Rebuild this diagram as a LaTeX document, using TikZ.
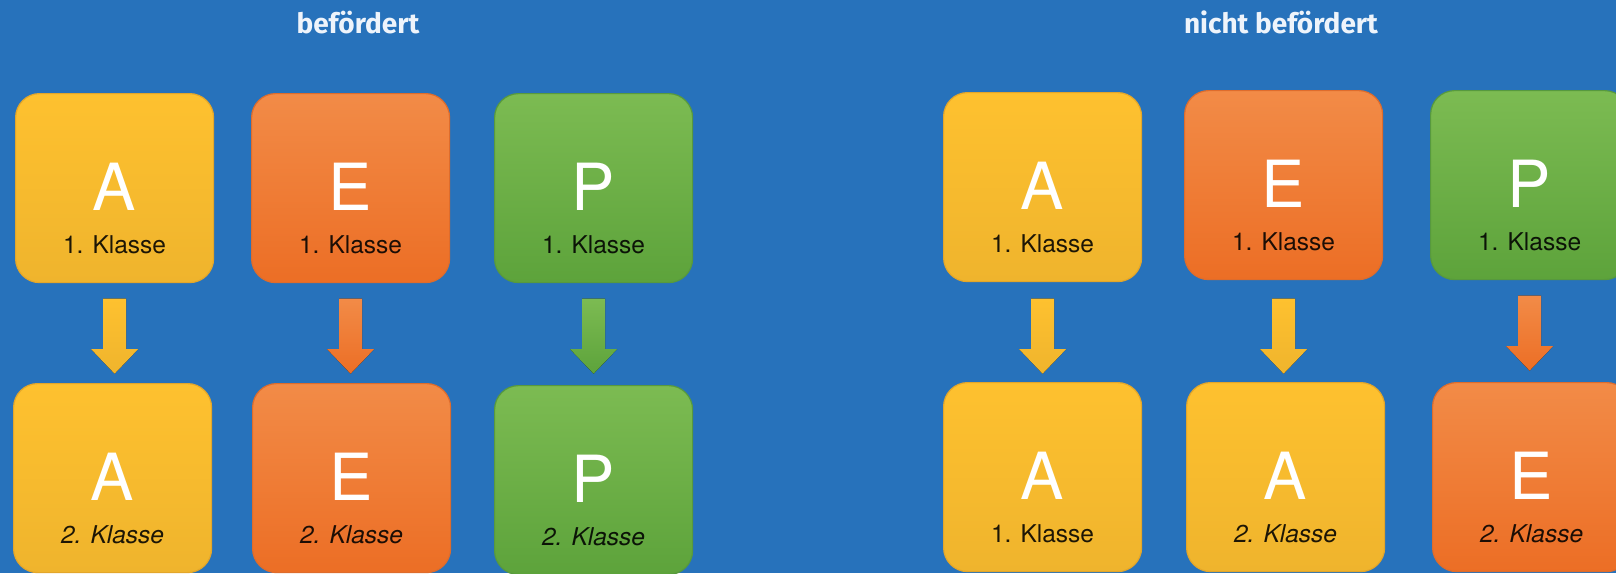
\documentclass[tikz,border=0pt]{standalone}
\usepackage{fontspec}
\setmainfont{TeX Gyre Heros}
\newfontfamily\titlefont{Fira Sans}
\usetikzlibrary{shadings,calc}
\definecolor{bg}{HTML}{2772BB}
\definecolor{yeltop}{HTML}{FEC12F}
\definecolor{yelmid}{HTML}{FFC90C}
\definecolor{yelbot}{HTML}{EFB42D}
\definecolor{yelborder}{HTML}{E3A62A}
\definecolor{orgtop}{HTML}{F28B47}
\definecolor{orgmid}{HTML}{F07A29}
\definecolor{orgbot}{HTML}{EC6E25}
\definecolor{orgborder}{HTML}{DE6C2C}
\definecolor{grntop}{HTML}{7CBB52}
\definecolor{grnmid}{HTML}{6AAE43}
\definecolor{grnbot}{HTML}{5DA33B}
\definecolor{grnborder}{HTML}{57993E}
\definecolor{titlecol}{HTML}{EEF4FB}
\tikzset{
  box/.style={rounded corners=24pt, minimum width=198pt, minimum height=189pt,
    inner sep=0pt, draw=#1border, line width=1.2pt,
    top color=#1top, middle color=#1mid, bottom color=#1bot},
  bigletter/.style={inner sep=0pt, text=white, font=\fontsize{65}{65}\selectfont},
  klabel/.style={inner sep=0pt, text=black, text opacity=0.88, font=\fontsize{24.5}{25}\selectfont},
  title/.style={inner sep=0pt, text=titlecol, font=\titlefont\bfseries\fontsize{28}{30}\selectfont},
  arrowfill/.style={draw=none, top color=#1top, bottom color=#1bot}
}
\newcommand\klbox[6]{%
  \node[box=#4, anchor=north west] (#1) at (#2,#3) {};
  \node[bigletter, anchor=base] (#1-l) at ($(#1.north)+(0,117)$) {#5};
  \node[klabel, anchor=base] (#1-k) at ($(#1.north)+(0,160)$) {#6};
}
% #1 start box, #2 end box, #3 colour, #4 gap below start box
\newcommand\dnarrow[4]{%
  \coordinate (#1-#2-c) at ($(#1.south)+(0,#4)$);
  \fill[arrowfill=#3] ($(#1-#2-c)+(-11.5,-37.5)$) -- ($(#1-#2-c)+(11.5,-37.5)$)
    -- ($(#1-#2-c)+(11.5,13)$) -- ($(#1-#2-c)+(23.5,13)$) -- ($(#1-#2-c)+(0,37.5)$)
    -- ($(#1-#2-c)+(-23.5,13)$) -- ($(#1-#2-c)+(-11.5,13)$) -- cycle;
}
\begin{document}
\begin{tikzpicture}[x=1pt,y=-1pt]
  \useasboundingbox (0,0) rectangle (1616,573);
  \fill[bg] (0,0) rectangle (1616,573);
  \clip (0,0) rectangle (1616,573);

  \node[title, anchor=base] (t-bef) at (358,33) {befördert};
  \node[title, anchor=base] (t-nbef) at (1281,33) {nicht befördert};

  % befördert
  \klbox{la1}{15}{93}{yel}{A}{1. Klasse}
  \klbox{le1}{251}{93}{org}{E}{1. Klasse}
  \klbox{lp1}{494}{93}{grn}{P}{1. Klasse}
  \klbox{la2}{13}{383}{yel}{A}{\itshape 2. Klasse}
  \klbox{le2}{252}{383}{org}{E}{\itshape 2. Klasse}
  \klbox{lp2}{494}{385}{grn}{P}{\itshape 2. Klasse}
  \dnarrow{la1}{la2}{yel}{53}
  \dnarrow{le1}{le2}{org}{53}
  \dnarrow{lp1}{lp2}{grn}{53}

  % nicht befördert
  \klbox{ra1}{943}{92}{yel}{A}{1. Klasse}
  \klbox{re1}{1184}{90}{org}{E}{1. Klasse}
  \klbox{rp1}{1430}{90}{grn}{P}{1. Klasse}
  \klbox{ra2}{943}{382}{yel}{A}{1. Klasse}
  \klbox{ra3}{1186}{382}{yel}{A}{\itshape 2. Klasse}
  \klbox{re2}{1432}{382}{org}{E}{\itshape 2. Klasse}
  \dnarrow{ra1}{ra2}{yel}{54}
  \dnarrow{re1}{ra3}{yel}{56}
  \dnarrow{rp1}{re2}{org}{53}
\end{tikzpicture}
\end{document}
